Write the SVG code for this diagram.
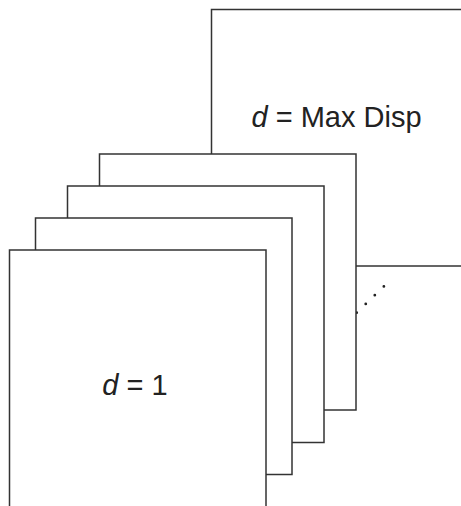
<svg xmlns="http://www.w3.org/2000/svg" width="461" height="506" viewBox="0 0 461 506">
<style>
.card{fill:#ffffff;stroke:#333333;stroke-width:1.5}
.lbl{font-family:"Liberation Sans",Arial,sans-serif;font-size:29px;fill:#222222;text-anchor:middle}
.dots{fill:none;stroke:#222222;stroke-width:2.8;stroke-linecap:round;stroke-dasharray:0 12.6}
</style>
<rect width="461" height="506" fill="#ffffff"/>
<g id="card-max">
<rect class="card" x="211.5" y="9.5" width="256.5" height="256.5"/>
<text class="lbl" x="336.5" y="127"><tspan font-style="italic">d</tspan> = Max Disp</text>
</g>
<g id="connectors">
<line class="dots" x1="356.7" y1="312.7" x2="384.3" y2="286"/>
</g>
<g id="card-4">
<rect class="card" x="99.5" y="154" width="256.5" height="256"/>
</g>
<g id="card-3">
<rect class="card" x="67.5" y="186" width="256.5" height="256.5"/>
</g>
<g id="card-2">
<rect class="card" x="35.5" y="218" width="256.5" height="256.5"/>
</g>
<g id="card-1">
<rect class="card" x="9.5" y="250" width="256.5" height="260"/>
<text class="lbl" x="135" y="395"><tspan font-style="italic">d</tspan> = 1</text>
</g>
</svg>
